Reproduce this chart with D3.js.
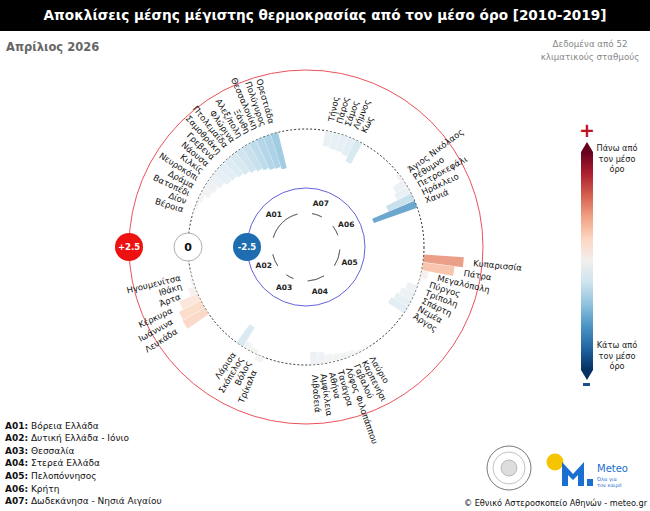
<!DOCTYPE html>
<html>
<head>
<meta charset="utf-8">
<script src="https://cdn.jsdelivr.net/npm/d3@7"></script>
<style>
  body { margin: 0; background: #fff; }
  svg { display: block; font-family: "DejaVu Sans", Verdana, sans-serif; }
</style>
</head>
<body>
<svg id="chart" width="650" height="511"></svg>
<script>
// regions (legend order)
const regionCodes = ['A01', 'A02', 'A03', 'A04', 'A05', 'A06', 'A07'];
const regionNames = ['Βόρεια Ελλάδα', 'Δυτική Ελλάδα - Ιόνιο', 'Θεσσαλία', 'Στερεά Ελλάδα',
  'Πελοπόννησος', 'Κρήτη', 'Δωδεκάνησα - Νησιά Αιγαίου'];

// order of the regions round the ring, clockwise, and empty slots after each
const ringOrder = ['A01', 'A07', 'A06', 'A05', 'A04', 'A03', 'A02'];
const ringGaps = [6, 6, 6, 6, 6, 5, 7];

// stations per region, clockwise, with deviation in °C
const a01Stations = ['Βέροια', 'Δίον', 'Βατοπέδι', 'Δράμα', 'Νευροκόπι', 'Κιλκίς', 'Νάουσα', 'Γρεβενά',
  'Σαμοθράκη', 'Πτολεμαΐδα', 'Φλώρινα', 'Αλεξ/πολη', 'Ξάνθη', 'Θεσσαλονίκη', 'Πολύγυρος', 'Ορεστιάδα'];
const a01Values = [-0.05, -0.1, -0.2, -0.4, -0.5, -0.6, -0.75, -0.8, -0.9, -1.0, -1.1, -1.2, -1.3, -1.4, -1.45, -1.55];

const a02Stations = ['Λευκάδα', 'Ιωάννινα', 'Κέρκυρα', 'Άρτα', 'Ιθάκη', 'Ηγουμενίτσα'];
const a02Values = [1.1, 1.05, 0.85, 0.3, 0.1, 0.05];

const a03Stations = ['Τρίκαλα', 'Βόλος', 'Σκόπελος', 'Λάρισα'];
const a03Values = [0.25, -0.2, -0.3, -0.95];

const a04Stations = ['Λαύριο', 'Καρπενήσι', 'Γαβαλού', 'Λόφος Φιλοπάππου', 'Τανάγρα', 'Αθήνα', 'Αμφίκλεια', 'Λιβαδειά'];
const a04Values = [-0.05, -0.1, -0.2, -0.25, -0.3, -0.35, -0.5, -0.55];

const a05Stations = ['Κυπαρισσία', 'Πάτρα', 'Μεγαλόπολη', 'Πύργος', 'Τρίπολη', 'Σπάρτη', 'Νεμέα', 'Άργος'];
const a05Values = [1.7, 1.35, 0.3, 0.05, -0.45, -0.6, -0.7, -0.8];

const a06Stations = ['Άγιος Νικόλαος', 'Ρέθυμνο', 'Πετροκεφάλι', 'Ηράκλειο', 'Χανιά'];
const a06Values = [-0.15, -0.55, -0.65, -1.2, -1.95];

const a07Stations = ['Τήνος', 'Πάρος', 'Σάμος', 'Λήμνος', 'Κως'];
const a07Values = [-0.65, -0.7, -0.72, -0.78, -1.0];

// radial reference circles
const refValues = [2.5, 0, -2.5];
const refLabels = ['+2.5', '0', '-2.5'];

const stationsBy = { A01: a01Stations, A02: a02Stations, A03: a03Stations, A04: a04Stations,
  A05: a05Stations, A06: a06Stations, A07: a07Stations };
const valuesBy = { A01: a01Values, A02: a02Values, A03: a03Values, A04: a04Values,
  A05: a05Values, A06: a06Values, A07: a07Values };

const width = 650;
const height = 511;
const cx = 306;
const cy = 247;

const svg = d3.select('#chart');

// build slots: stations plus empty spacer slots after each region
const rows = [];
const slots = [];
ringOrder.forEach((g, gi) => {
  stationsBy[g].forEach((name, i) => {
    const key = `${g}-${i}`;
    rows.push({ key, group: g, name, value: valuesBy[g][i] });
    slots.push(key);
  });
  for (let k = 0; k < ringGaps[gi]; k += 1) slots.push(`${g}-gap-${k}`);
});

const step = (2 * Math.PI) / slots.length;
const startAngle = (287 * Math.PI) / 180 - step / 2;

const x = d3.scaleBand()
  .domain(slots)
  .range([startAngle, startAngle + 2 * Math.PI])
  .paddingInner(0.04)
  .paddingOuter(0.02);

const y = d3.scaleLinear().domain([-5, 2.5]).range([0, 177]);

const color = d3.scaleDivergingPow(t => d3.interpolateRdBu(1 - t))
  .exponent(1.7)
  .domain([-2.6, 0, 2.6])
  .clamp(true);

// title bar
svg.append('rect').attr('width', width).attr('height', 31).attr('fill', '#000');
svg.append('text')
  .attr('x', width / 2).attr('y', 20)
  .attr('text-anchor', 'middle')
  .attr('fill', '#fff')
  .attr('font-weight', 'bold')
  .attr('font-size', 13.6)
  .text('Αποκλίσεις μέσης μέγιστης θερμοκρασίας από τον μέσο όρο [2010-2019]');

svg.append('text')
  .attr('x', 6).attr('y', 51)
  .attr('fill', '#666')
  .attr('font-weight', 'bold')
  .attr('font-size', 11.5)
  .text('Απρίλιος 2026');

svg.append('g')
  .attr('fill', '#888')
  .attr('font-size', 8.7)
  .attr('text-anchor', 'middle')
  .selectAll('text')
  .data(['Δεδομένα από 52', 'κλιματικούς σταθμούς'])
  .join('text')
  .attr('x', 590)
  .attr('y', (d, i) => 47 + i * 12.5)
  .text(d => d);

// ring
const ring = svg.append('g').attr('transform', `translate(${cx},${cy})`);

ring.append('circle').attr('r', y(2.5)).attr('fill', 'none').attr('stroke', '#e3262f').attr('stroke-width', 0.8);
ring.append('circle').attr('r', y(0)).attr('fill', 'none').attr('stroke', '#111')
  .attr('stroke-width', 0.9).attr('stroke-dasharray', '2,2');
ring.append('circle').attr('r', y(-2.5)).attr('fill', 'none').attr('stroke', '#3a3ad0').attr('stroke-width', 0.8);

const arc = d3.arc()
  .innerRadius(d => y(Math.min(0, d.value)))
  .outerRadius(d => y(Math.max(0, d.value)))
  .startAngle(d => x(d.key))
  .endAngle(d => x(d.key) + x.bandwidth());

ring.append('g')
  .selectAll('path')
  .data(rows)
  .join('path')
  .attr('d', arc)
  .attr('fill', d => color(d.value))
  .attr('fill-opacity', 0.8);

// station labels
const mid = d => x(d.key) + x.bandwidth() / 2;
const deg = d => ((mid(d) * 180) / Math.PI) % 360;

ring.append('g')
  .attr('font-size', 8.5)
  .attr('fill', '#111')
  .selectAll('text')
  .data(rows)
  .join('text')
  .attr('transform', d => {
    const a = deg(d);
    const r = y(Math.max(0, d.value)) + 10;
    return `rotate(${a - 90}) translate(${r},0)${a > 180 ? ' rotate(180)' : ''}`;
  })
  .attr('text-anchor', d => (deg(d) > 180 ? 'end' : 'start'))
  .attr('dy', '0.35em')
  .text(d => d.name);

// region base arcs and codes
const groupSpans = ringOrder.map(g => {
  const gRows = rows.filter(r => r.group === g);
  return { group: g, start: mid(gRows[0]), end: mid(gRows[gRows.length - 1]) };
});

const baseArc = d3.arc().innerRadius(34).outerRadius(34)
  .startAngle(d => d.start - 0.02).endAngle(d => d.end + 0.02);

ring.append('g')
  .selectAll('path')
  .data(groupSpans)
  .join('path')
  .attr('d', baseArc)
  .attr('fill', 'none')
  .attr('stroke', '#444')
  .attr('stroke-width', 0.6);

ring.append('g')
  .attr('font-size', 7.5)
  .attr('font-weight', 'bold')
  .attr('fill', '#222')
  .attr('text-anchor', 'middle')
  .selectAll('text')
  .data(groupSpans)
  .join('text')
  .attr('x', d => Math.sin((d.start + d.end) / 2) * 46)
  .attr('y', d => -Math.cos((d.start + d.end) / 2) * 46)
  .attr('dy', '0.35em')
  .text(d => d.group);

// reference markers on the left
const markerFill = ['#ee1111', '#fff', '#1f6db1'];
const marker = ring.append('g')
  .selectAll('g')
  .data(refValues)
  .join('g')
  .attr('transform', d => `translate(${-y(d)},0)`);

marker.append('circle')
  .attr('r', 14)
  .attr('fill', (d, i) => markerFill[i])
  .attr('stroke', (d, i) => (i === 1 ? '#999' : 'none'))
  .attr('stroke-width', 0.8);

marker.append('text')
  .attr('text-anchor', 'middle')
  .attr('dy', '0.35em')
  .attr('font-weight', 'bold')
  .attr('font-size', (d, i) => (i === 1 ? 11 : 8.5))
  .attr('fill', (d, i) => (i === 1 ? '#111' : '#fff'))
  .text((d, i) => refLabels[i]);

// colour legend
const barX = 581;
const barW = 12;
const barTop = 152;
const barBottom = 370;

const defs = svg.append('defs');
const grad = defs.append('linearGradient')
  .attr('id', 'legendGrad')
  .attr('x1', 0).attr('y1', 0).attr('x2', 0).attr('y2', 1);
grad.selectAll('stop')
  .data(d3.range(0, 1.0001, 0.1))
  .join('stop')
  .attr('offset', d => d)
  .attr('stop-color', d => d3.interpolateRdBu(d));

svg.append('rect')
  .attr('x', barX).attr('y', barTop)
  .attr('width', barW).attr('height', barBottom - barTop)
  .attr('fill', 'url(#legendGrad)');
svg.append('path')
  .attr('d', `M${barX},${barTop}L${barX + barW / 2},${barTop - 10}L${barX + barW},${barTop}Z`)
  .attr('fill', d3.interpolateRdBu(0));
svg.append('path')
  .attr('d', `M${barX},${barBottom}L${barX + barW / 2},${barBottom + 10}L${barX + barW},${barBottom}Z`)
  .attr('fill', d3.interpolateRdBu(1));

svg.append('text')
  .attr('x', barX + barW / 2).attr('y', 137)
  .attr('text-anchor', 'middle')
  .attr('font-size', 19).attr('font-weight', 'bold')
  .attr('fill', '#c1121f')
  .text('+');
svg.append('rect')
  .attr('x', barX + 2).attr('y', 383)
  .attr('width', 7).attr('height', 3)
  .attr('fill', '#1d4f8c');

const legendNotes = [
  { y: 151, lines: ['Πάνω από', 'τον μέσο', 'όρο'] },
  { y: 348, lines: ['Κάτω από', 'τον μέσο', 'όρο'] },
];
legendNotes.forEach(n => {
  svg.append('g')
    .attr('font-size', 8.2)
    .attr('fill', '#222')
    .attr('text-anchor', 'middle')
    .selectAll('text')
    .data(n.lines)
    .join('text')
    .attr('x', 617)
    .attr('y', (d, i) => n.y + i * 10.5)
    .text(d => d);
});

// region key, bottom left
const key = svg.append('g')
  .attr('font-size', 9)
  .attr('fill', '#111')
  .selectAll('text')
  .data(regionCodes)
  .join('text')
  .attr('x', 5)
  .attr('y', (d, i) => 428.5 + i * 12.6);
key.append('tspan').attr('font-weight', 'bold').text(d => `${d}:`);
key.append('tspan').text((d, i) => ` ${regionNames[i]}`);

// logos, bottom right
const seal = svg.append('g').attr('transform', 'translate(509,468)');
seal.append('circle').attr('r', 22).attr('fill', '#fff').attr('stroke', '#777').attr('stroke-width', 1);
seal.append('circle').attr('r', 16).attr('fill', 'none').attr('stroke', '#999').attr('stroke-width', 0.6);
seal.append('circle').attr('r', 8).attr('fill', '#ddd').attr('stroke', '#888').attr('stroke-width', 0.5);

const logo = svg.append('g');
logo.append('circle').attr('cx', 555).attr('cy', 462).attr('r', 8.5).attr('fill', '#f6c400');
logo.append('path')
  .attr('d', 'M562,486 L562,462 L573,474 L584,462 L584,486 L578,486 L578,475 L573,480 L568,475 L568,486 Z')
  .attr('fill', '#1a6fd0');
logo.append('rect').attr('x', 587).attr('y', 479).attr('width', 6).attr('height', 7).attr('fill', '#1a6fd0');
logo.append('text')
  .attr('x', 597).attr('y', 472)
  .attr('font-size', 10).attr('fill', '#1a6fd0')
  .text('Meteo');
logo.append('text')
  .attr('x', 597).attr('y', 481)
  .attr('font-size', 5).attr('fill', '#1a6fd0')
  .text('Όλα για');
logo.append('text')
  .attr('x', 597).attr('y', 487)
  .attr('font-size', 5).attr('fill', '#1a6fd0')
  .text('τον καιρό');

svg.append('text')
  .attr('x', 647).attr('y', 506)
  .attr('text-anchor', 'end')
  .attr('font-size', 8.2)
  .attr('fill', '#111')
  .text('© Εθνικό Αστεροσκοπείο Αθηνών - meteo.gr');
</script>
</body>
</html>
